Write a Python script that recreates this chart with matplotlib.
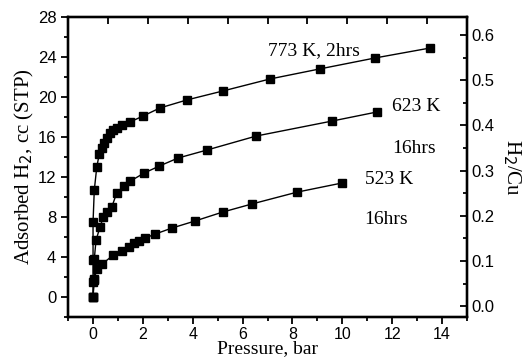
import numpy as np
import matplotlib.pyplot as plt
from matplotlib.ticker import MultipleLocator

# pressure (bar) and adsorbed H2 (cc STP)
p_773 = [0, 0.0, 0.0, 0.0, 0.05, 0.15, 0.25, 0.35, 0.44, 0.55, 0.68, 0.81, 0.97, 1.17,
         1.48, 2.01, 2.68, 3.76, 5.21, 7.1, 9.09, 11.32, 13.54]
v_773 = [0, 1.5, 3.7, 7.5, 10.7, 13.0, 14.3, 14.9, 15.4, 15.9, 16.4, 16.7, 16.9, 17.2,
         17.5, 18.1, 18.9, 19.7, 20.6, 21.8, 22.8, 23.9, 24.9]

p_623 = [0, 0.05, 0.05, 0.12, 0.28, 0.41, 0.57, 0.75, 0.95, 1.24, 1.5, 2.05, 2.66,
         3.41, 4.57, 6.55, 9.6, 11.39]
v_623 = [0, 1.8, 3.8, 5.7, 7.0, 8.0, 8.5, 9.0, 10.4, 11.1, 11.6, 12.4, 13.1,
         13.9, 14.7, 16.1, 17.6, 18.5]

p_523 = [0, 0.03, 0.16, 0.36, 0.81, 1.15, 1.45, 1.66, 1.83, 2.09, 2.49, 3.16, 4.08,
         5.2, 6.36, 8.2, 9.98]
v_523 = [0, 1.7, 2.8, 3.3, 4.2, 4.6, 5.0, 5.4, 5.6, 5.9, 6.3, 6.9, 7.6,
         8.5, 9.3, 10.5, 11.4]

labels = [("773 K, 2hrs", 7.0, 24.6), ("623 K", 12.0, 19.0), ("16hrs", 12.0, 14.9),
          ("523 K", 10.9, 11.8), ("16hrs", 10.9, 7.8)]

serif = "Liberation Serif"
sans = "Liberation Sans"

fig = plt.figure(figsize=(5.24, 3.6), dpi=100)
ax = fig.add_axes([0.130, 0.119, 0.761, 0.834])

for p, v in [(p_773, v_773), (p_623, v_623), (p_523, v_523)]:
    ax.plot(p, v, color="black", lw=1.0, marker="s", ms=5.5, mfc="black", mec="black")

for txt, x, y in labels:
    ax.text(x, y, txt, family=serif, fontsize=14, va="center", ha="left")

ax.set_xlim(-1, 15)
ax.set_ylim(-2, 28)
ax.xaxis.set_major_locator(MultipleLocator(2))
ax.xaxis.set_minor_locator(MultipleLocator(1))
ax.yaxis.set_major_locator(MultipleLocator(4))
ax.yaxis.set_minor_locator(MultipleLocator(2))
ax.tick_params(which="both", direction="out", width=1.3)
ax.tick_params(which="major", length=5, labelsize=12)
ax.tick_params(which="major", axis="x", pad=2, labelsize=11.5)
ax.tick_params(which="minor", length=3)
for lab in ax.get_xticklabels() + ax.get_yticklabels():
    lab.set_family(sans)

ax.set_xlabel("Pressure, bar", family=serif, fontsize=14, labelpad=-1)
ax.set_ylabel("Adsorbed H$_2$, cc (STP)", family=serif, fontsize=15, labelpad=1)

for s in ax.spines.values():
    s.set_linewidth(1.6)

# right axis: H2/Cu
ax2 = ax.twinx()
ax2.set_ylim((-2 + 0.9) / 45.17, (28 + 0.9) / 45.17)
ax2.yaxis.set_major_locator(MultipleLocator(0.1))
ax2.yaxis.set_minor_locator(MultipleLocator(0.05))
ax2.tick_params(which="both", direction="in", width=1.3)
ax2.tick_params(which="major", length=5, labelsize=12)
ax2.tick_params(which="minor", length=3)
ax2.yaxis.set_major_formatter(plt.FormatStrFormatter("%.1f"))
for lab in ax2.get_yticklabels():
    lab.set_family(sans)
ax2.set_ylabel("H$_2$/Cu", family=serif, fontsize=15, rotation=270, labelpad=20)

# top ticks, no labels
ax3 = ax.twiny()
ax3.set_xlim(-1, 15)
ax3.set_xticks(np.arange(0.6, 14, 1.6))
ax3.tick_params(direction="in", length=5, width=1.3, labeltop=False)

for a in (ax2, ax3):
    for s in a.spines.values():
        s.set_linewidth(1.6)

fig.savefig("out.png", dpi=100)
